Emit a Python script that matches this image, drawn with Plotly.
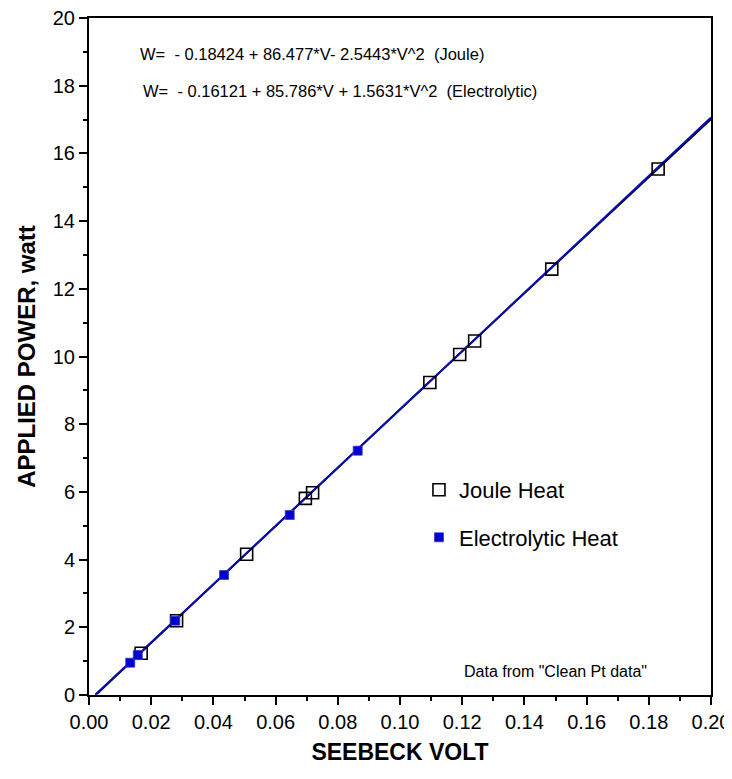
import numpy as np
import plotly.graph_objects as go

# Joule heat data (open squares)
joule_v = [0.01677, 0.02816, 0.05069, 0.06957, 0.0719, 0.1096, 0.1192, 0.1240, 0.1488, 0.1830]
joule_w = [1.232, 2.195, 4.157, 5.81, 5.977, 9.23, 10.06, 10.46, 12.58, 15.54]

# Electrolytic heat data (filled squares)
elec_v = [0.01325, 0.01568, 0.02774, 0.04342, 0.06454, 0.0864]
elec_w = [0.954, 1.18, 2.195, 3.545, 5.318, 7.217]

# Fit coefficients as printed on the chart
joule_coef = [-0.18424, 86.477, -2.5443]
elec_coef = [-0.16121, 85.786, 1.5631]

x_ticks = [0.00, 0.02, 0.04, 0.06, 0.08, 0.10, 0.12, 0.14, 0.16, 0.18, 0.20]
x_ticklabels = ["0.00", "0.02", "0.04", "0.06", "0.08", "0.10", "0.12", "0.14", "0.16", "0.18", "0.20"]
y_ticks = [0, 2, 4, 6, 8, 10, 12, 14, 16, 18, 20]

FONT = "Liberation Sans, Arial, sans-serif"


def fit_curve(coef):
    c0, c1, c2 = coef
    v = np.linspace(0.0, 0.2, 401)
    w = c0 + c1 * v + c2 * v ** 2
    keep = w >= 0
    return v[keep], w[keep]


fig = go.Figure()

jv, jw = fit_curve(joule_coef)
ev, ew = fit_curve(elec_coef)

fig.add_trace(go.Scatter(x=jv, y=jw, mode="lines", line=dict(color="black", width=2),
                         showlegend=False, hoverinfo="skip"))
fig.add_trace(go.Scatter(x=ev, y=ew, mode="lines", line=dict(color="#0c0cb4", width=2),
                         showlegend=False, hoverinfo="skip"))

fig.add_trace(go.Scatter(x=joule_v, y=joule_w, mode="markers", name="Joule Heat",
                         legendgroup="j",
                         marker=dict(symbol="square-open", size=12, color="black",
                                     line=dict(width=1.6, color="black"))))
fig.add_trace(go.Scatter(x=elec_v, y=elec_w, mode="markers", name="Electrolytic Heat",
                         legendgroup="e",
                         marker=dict(symbol="square", size=9, color="#0000cc",
                                     line=dict(width=0.8, color="#3a3ae0"))))

fig.update_xaxes(
    range=[0, 0.2], tickvals=x_ticks, ticktext=x_ticklabels,
    ticks="outside", ticklen=8, tickwidth=1.5, tickcolor="black",
    ticklabeloverflow="allow",
    minor=dict(ticks="outside", ticklen=4, tickwidth=1.5, tickcolor="black", dtick=0.01),
    showline=True, linewidth=2, linecolor="black", mirror=True,
    showgrid=False, zeroline=False, automargin=False,
    tickfont=dict(family=FONT, size=20, color="black"),
    title=dict(text="<b>SEEBECK VOLT</b>", font=dict(family=FONT, size=23, color="black"),
               standoff=12),
)
fig.update_yaxes(
    range=[0, 20], tickvals=y_ticks,
    ticks="outside", ticklen=8, tickwidth=1.5, tickcolor="black",
    ticklabeloverflow="allow",
    minor=dict(ticks="outside", ticklen=4, tickwidth=1.5, tickcolor="black", dtick=1),
    showline=True, linewidth=2, linecolor="black", mirror=True,
    showgrid=False, zeroline=False, automargin=False,
    tickfont=dict(family=FONT, size=20, color="black"),
    title=dict(text="<b>APPLIED POWER, watt</b>", font=dict(family=FONT, size=24, color="black"),
               standoff=10),
)

fig.add_annotation(xref="paper", yref="paper", x=0.0793, y=0.9468, xanchor="left", yanchor="middle",
                   showarrow=False, text="W=  - 0.18424 + 86.477*V- 2.5443*V^2  (Joule)",
                   font=dict(family=FONT, size=16.5, color="black"))
fig.add_annotation(xref="paper", yref="paper", x=0.0836, y=0.8926, xanchor="left", yanchor="middle",
                   showarrow=False, text="W=  - 0.16121 + 85.786*V + 1.5631*V^2  (Electrolytic)",
                   font=dict(family=FONT, size=16.5, color="black"))
fig.add_annotation(xref="paper", yref="paper", x=0.599, y=0.0344, xanchor="left", yanchor="middle",
                   showarrow=False, text="Data from \"Clean Pt data\"",
                   font=dict(family=FONT, size=16, color="black"))

# The page body has an 8px default margin, so the figure is sized to fit the window.
fig.update_layout(
    width=724, height=771,
    margin=dict(l=81, r=21, t=10, b=84),
    paper_bgcolor="white", plot_bgcolor="white",
    font=dict(family=FONT, color="black"),
    legend=dict(x=0.5305, y=0.334, xanchor="left", yanchor="top",
                traceorder="grouped", tracegroupgap=16,
                font=dict(family=FONT, size=22, color="black"),
                bgcolor="rgba(0,0,0,0)"),
)

fig.write_html("out.html")
